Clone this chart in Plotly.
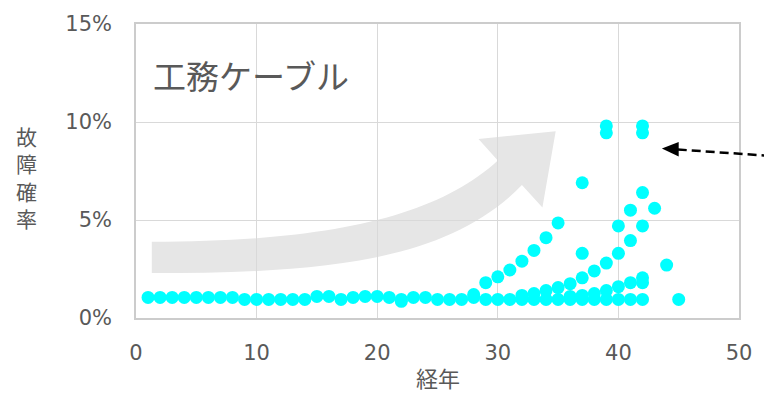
import plotly.graph_objects as go

# Failure rate (%) by years in service, grouped by cable batch
base_years = list(range(1, 43))
base_rate = [1.05, 1.05, 1.05, 1.05, 1.05, 1.05, 1.05, 1.05, 0.95, 0.95,
             0.95, 0.95, 0.95, 0.95, 1.1, 1.1, 0.95, 1.05, 1.1, 1.1,
             1.05, 0.95, 1.05, 1.05, 0.95, 0.95, 0.95, 1.05, 0.95, 0.95,
             0.95, 0.95, 0.95, 0.95, 0.95, 0.95, 0.95, 0.95, 0.95, 0.95,
             0.95, 0.95]

early_years = [22, 28, 29, 30, 31, 32, 33, 34, 35]
early_rate = [0.85, 1.2, 1.8, 2.1, 2.45, 2.9, 3.45, 4.1, 4.85]

mid_years = [32, 33, 34, 35, 36, 37, 38, 39, 40, 41, 42]
mid_rate = [1.15, 1.25, 1.4, 1.55, 1.75, 2.05, 2.4, 2.8, 3.3, 3.95, 4.7]

late_years = [36, 37, 38, 39, 40, 41, 42, 42]
late_rate = [1.1, 1.15, 1.25, 1.4, 1.6, 1.8, 2.05, 1.8]

steep_years = [37, 40, 41, 42, 43]
steep_rate = [3.3, 4.7, 5.5, 6.4, 5.6]

outlier_years = [37, 39, 39, 42, 42, 44, 45]
outlier_rate = [6.9, 9.8, 9.45, 9.8, 9.45, 2.7, 0.95]

series = [
    (base_years, base_rate),
    (early_years, early_rate),
    (mid_years, mid_rate),
    (late_years, late_rate),
    (steep_years, steep_rate),
    (outlier_years, outlier_rate),
]

x_ticks = [0, 10, 20, 30, 40, 50]
y_ticks = [0, 5, 10, 15]
y_tick_labels = ["0%", "5%", "10%", "15%"]

GREY_TEXT = "#595959"
GRID = "#d9d9d9"
FONT = "DejaVu Sans, Noto Sans CJK JP, sans-serif"
JP_FONT = "Noto Sans CJK JP, sans-serif"

fig = go.Figure()
for xs, ys in series:
    fig.add_trace(go.Scatter(
        x=xs, y=ys, mode="markers",
        marker=dict(color="#00FFFF", size=13, line=dict(width=0)),
        showlegend=False, hoverinfo="x+y",
    ))

# Broad grey trend arrow drawn under the grid
arrow_path = (
    "M 1.31 3.89 "
    "C 15.9 3.89, 24.9 5.14, 30.0 8.03 "
    "L 28.4 9.13 L 34.8 9.53 L 33.7 5.64 L 32.0 6.78 "
    "C 25.7 2.80, 15.1 2.29, 1.31 2.29 Z"
)
shapes = [
    dict(type="path", xref="x", yref="y", path=arrow_path,
         fillcolor="#e6e6e6", line=dict(width=0), layer="below"),
    # dashed pointer coming in from the right edge
    dict(type="line", xref="paper", yref="paper",
         x0=0.8984, y0=0.5731, x1=1.045, y1=0.5525,
         line=dict(color="black", width=2.5, dash="9px,5px")),
    dict(type="path", xref="paper", yref="paper",
         path="M 0.8721 0.5767 L 0.9000 0.5990 L 0.9000 0.5492 Z",
         fillcolor="black", line=dict(width=0)),
]

annotations = [
    dict(text="工務ケーブル", xref="paper", yref="paper", x=0.19, y=0.826,
         xanchor="center", yanchor="middle", showarrow=False,
         font=dict(family=JP_FONT, size=33, color=GREY_TEXT)),
    dict(text="経年", xref="paper", yref="paper", x=0.5, y=-0.262,
         xanchor="center", yanchor="bottom", showarrow=False,
         font=dict(family=JP_FONT, size=22, color=GREY_TEXT)),
    dict(text="故<br>障<br>確<br>率", xref="paper", yref="paper",
         x=-0.182, y=0.478, xanchor="center", yanchor="middle",
         showarrow=False,
         font=dict(family=JP_FONT, size=21, color=GREY_TEXT)),
]

fig.update_layout(
    width=764, height=398,
    margin=dict(l=136, r=18, t=17, b=80),
    paper_bgcolor="white", plot_bgcolor="white",
    shapes=shapes, annotations=annotations,
    font=dict(family=FONT, color=GREY_TEXT, size=21),
)
fig.update_xaxes(
    range=[0, 50], tickvals=x_ticks, showgrid=True, gridcolor=GRID,
    gridwidth=1, zeroline=False, showline=True, linecolor="#cccccc",
    linewidth=1.5, mirror=True, ticks="", ticklabelstandoff=15,
    tickfont=dict(family=FONT, size=21, color=GREY_TEXT),
)
fig.update_yaxes(
    range=[0, 15], tickvals=y_ticks, ticktext=y_tick_labels,
    showgrid=True, gridcolor=GRID, gridwidth=1, zeroline=False,
    showline=True, linecolor="#cccccc", linewidth=1.5, mirror=True,
    ticks="", ticklabelstandoff=18,
    tickfont=dict(family=FONT, size=21, color=GREY_TEXT),
)

fig.write_html("out.html")
